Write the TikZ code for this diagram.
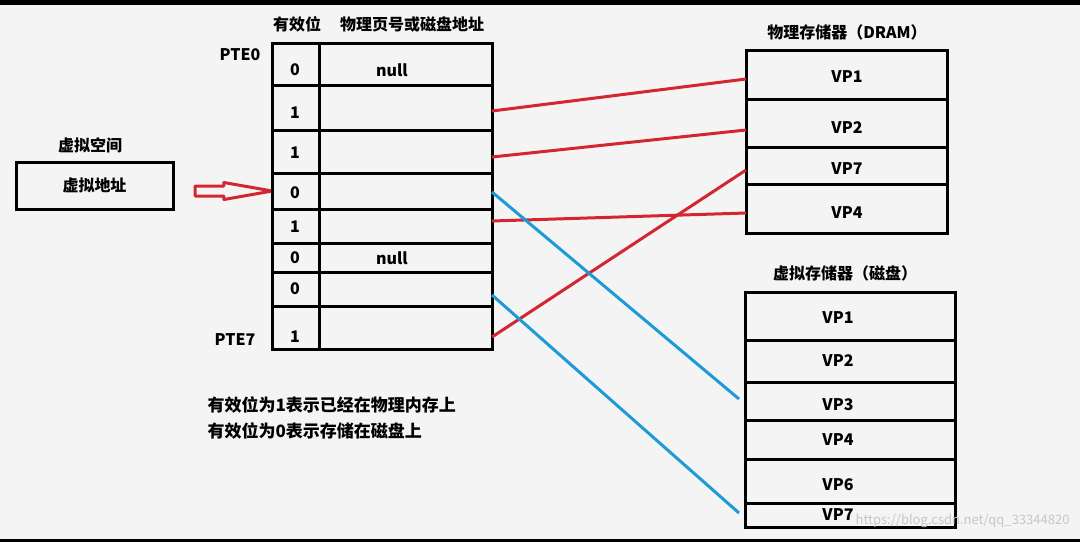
\documentclass[tikz,border=0pt]{standalone}
\usepackage{fontspec}
\setmainfont{Noto Sans CJK SC}
\usepackage{xcolor}
\usepackage{tikz}
\usetikzlibrary{positioning,shapes.arrows}

\definecolor{linkred}{RGB}{212,38,48}
\definecolor{linkblue}{RGB}{30,155,214}
\definecolor{paper}{RGB}{244,244,244}

\begin{document}
\begin{tikzpicture}[
  x=1pt, y=-1pt,
  font=\bfseries\fontsize{16}{18}\selectfont,
  cell/.style={draw, line width=3pt, inner sep=0pt, outer sep=0pt},
  bitcell/.style={cell, minimum width=47pt},
  addrcell/.style={cell, minimum width=173pt},
  dramcell/.style={cell, minimum width=201pt},
  diskcell/.style={cell, minimum width=210pt},
  redlink/.style={draw=linkred, line width=3pt},
  bluelink/.style={draw=linkblue, line width=3pt},
  bigarrow/.style={single arrow, draw=linkred, line width=3pt, line join=round,
    minimum height=77pt, minimum width=14pt, inner sep=3.5pt,
    single arrow head extend=3.5pt, single arrow tip angle=20},
  note/.style={anchor=west, font=\bfseries\fontsize{17}{19}\selectfont}
]
\useasboundingbox (0,0) rectangle (1080,542);
\fill[paper] (0,0) rectangle (1080,542);
\fill[black] (0,0) rectangle (1080,5);
\fill[black] (0,539) rectangle (1080,542);

% virtual address
\node[cell, minimum width=157pt, minimum height=47pt] (vaddr) at (94.5,185.5) {虚拟地址};
\node (vspace) at (90,145) {虚拟空间};
\node[bigarrow] (arr) at (219.5,191) {};

% page table
\node (hbit) at (297,24) {有效位};
\node (haddr) at (412,24) {物理页号或磁盘地址};
\node (pte0) at (240,55) {PTE0};
\node (pte7) at (235,340) {PTE7};
\foreach \i/\top/\bot/\ty/\bit/\addr in {0/43/85/70/0/null, 1/85/130/113/1/{}, 2/130/173/153/1/{},
    3/173/209/193/0/{}, 4/209/243/227/1/{}, 5/243/272/258/0/null, 6/272/306/289/0/{}, 7/306/349/337/1/{}} {
  \node[bitcell, minimum height={\bot-\top}] (b\i) at (295.5,{(\top+\bot)/2}) {};
  \node[addrcell, minimum height={\bot-\top}, right=0pt of b\i] (a\i) {};
  \node at (295,\ty) {\bit};
  \node at (392,\ty) {\addr};
}

% physical memory
\node (dramtitle) at (847,32) {物理存储器（DRAM）};
\foreach \i/\top/\bot/\ty/\page in {1/50/99/77/VP1, 2/99/147/128/VP2, 3/147/184/169/VP7, 4/184/233/213/VP4} {
  \node[dramcell, minimum height={\bot-\top}] (d\i) at (846.5,{(\top+\bot)/2}) {};
  \node at (847,\ty) {\page};
}

% disk
\node (disktitle) at (845,273) {虚拟存储器（磁盘）};
\foreach \i/\top/\bot/\ty/\page in {1/292/340/318/VP1, 2/340/382/361/VP2, 3/382/420/405/VP3,
    4/420/459/440/VP4, 5/459/503/485/VP6, 6/503/527/515/VP7} {
  \node[diskcell, minimum height={\bot-\top}] (k\i) at (850,{(\top+\bot)/2}) {};
  \node at (838,\ty) {\page};
}

% links
\foreach \s/\t/\ss/\ts in {a1/d1/-3.5pt/-4.5pt, a2/d2/-5.5pt/-7pt, a4/d4/5pt/-4.5pt, a7/d3/-9.5pt/-4.5pt}
  \draw[redlink] ([yshift=\ss]\s.east) -- ([yshift=\ts]\t.west);
\foreach \s/\t/\ss/\ts in {a3/k3/-1pt/2pt, a6/k6/-6pt/2pt}
  \draw[bluelink] ([yshift=\ss]\s.east) -- ([yshift=\ts,xshift=-6pt]\t.west);

% notes
\node[note] (note1) at (204,405) {有效位为1表示已经在物理内存上};
\node[note] (note0) at (204,431) {有效位为0表示存储在磁盘上};

\node[anchor=east, text=black!22, font=\fontsize{13}{15}\selectfont] (mark) at (1073,521) {https://blog.csdn.net/qq\_33344820};
\end{tikzpicture}
\end{document}
